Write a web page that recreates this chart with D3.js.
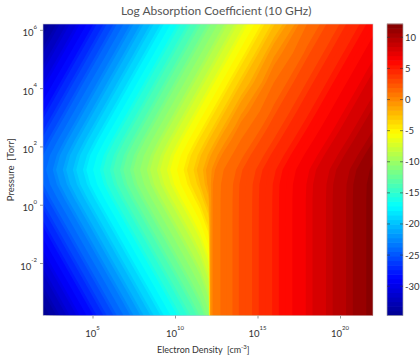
<!DOCTYPE html>
<html lang="en">
<head>
<meta charset="utf-8" />
<title>Log Absorption Coefficient (10 GHz)</title>
<script src="https://d3js.org/d3.v7.min.js"></script>
<style>
  body { margin: 0; background: #fff; }
  svg { display: block; font-family: Lato, "Open Sans", sans-serif; }
</style>
</head>
<body>
<script>
// log10 of the sample positions the field was read at
var logDensity = [2, 4, 6, 8, 10, 11, 11.5, 12, 12.05, 12.14, 12.3, 12.6, 13, 14, 16, 18, 20, 22];
var logPressure = [6.2, 5.2, 4.2, 3.2, 2.7, 2.2, 1.7, 1.2, 0.7, 0.2, -0.8, -1.8, -2.8, -3.8];

// log absorption coefficient, one row per pressure (top first), one column per density
var absorption = [
  [-34.71, -30.10, -25.50, -20.89, -16.29, -13.99, -12.84, -11.68, -11.57, -11.36, -10.99, -10.30, -9.38, -7.08, -2.47, 1.37, 3.74, 6.04],
  [-32.41, -27.80, -23.20, -18.59, -13.99, -11.68, -10.53, -9.38, -9.27, -9.06, -8.69, -8.00, -7.08, -4.78, -0.24, 2.58, 4.89, 7.19],
  [-30.10, -25.50, -20.89, -16.29, -11.68, -9.38, -8.23, -7.08, -6.96, -6.76, -6.39, -5.70, -4.78, -2.47, 1.37, 3.74, 6.04, 8.34],
  [-27.80, -23.20, -18.59, -13.99, -9.38, -7.08, -5.93, -4.78, -4.66, -4.45, -4.09, -3.39, -2.47, -0.23, 2.59, 4.89, 7.20, 9.50],
  [-26.65, -22.05, -17.44, -12.84, -8.23, -5.93, -4.78, -3.63, -3.51, -3.30, -2.93, -2.25, -1.33, 0.68, 3.18, 5.48, 7.78, 10.09],
  [-25.51, -20.90, -16.30, -11.69, -7.09, -4.79, -3.63, -2.48, -2.36, -2.16, -1.79, -1.10, -0.21, 1.42, 3.78, 6.09, 8.39, 10.69],
  [-24.44, -19.84, -15.23, -10.63, -6.02, -3.72, -2.56, -1.39, -1.27, -1.06, -0.68, 0.00, 0.75, 2.10, 4.42, 6.73, 9.03, 11.33],
  [-23.89, -19.28, -14.68, -10.07, -5.47, -3.15, -1.95, -0.66, -0.52, -0.27, 0.16, 0.81, 1.44, 2.67, 4.98, 7.29, 9.59, 11.89],
  [-24.44, -19.84, -15.23, -10.63, -6.02, -3.68, -2.44, -0.83, -0.60, -0.16, 0.45, 1.09, 1.68, 2.89, 5.20, 7.50, 9.81, 12.11],
  [-25.51, -20.90, -16.30, -11.69, -7.09, -4.74, -3.49, -1.70, -1.32, -0.30, 0.49, 1.13, 1.71, 2.92, 5.23, 7.54, 9.84, 12.14],
  [-27.80, -23.20, -18.59, -13.99, -9.38, -7.04, -5.78, -3.96, -3.49, -0.36, 0.49, 1.14, 1.72, 2.93, 5.24, 7.54, 9.84, 12.14],
  [-30.10, -25.50, -20.89, -16.29, -11.68, -9.34, -8.08, -6.26, -5.79, -0.36, 0.49, 1.14, 1.72, 2.93, 5.24, 7.54, 9.84, 12.14],
  [-32.41, -27.80, -23.20, -18.59, -13.99, -11.64, -10.39, -8.56, -8.10, -0.36, 0.49, 1.14, 1.72, 2.93, 5.24, 7.54, 9.84, 12.14],
  [-34.71, -30.10, -25.50, -20.89, -16.29, -13.94, -12.69, -10.87, -10.40, -0.36, 0.49, 1.14, 1.72, 2.93, 5.24, 7.54, 9.84, 12.14]
];

var xTicks = [1e5, 1e10, 1e15, 1e20];
var xExponents = ["5", "10", "15", "20"];
var yTicks = [1e-2, 1, 1e2, 1e4, 1e6];
var yExponents = ["-2", "0", "2", "4", "6"];
var barTicks = [-30, -25, -20, -15, -10, -5, 0, 5, 10];
var nLevels = 100;
var nColors = 64;

var W = 420, H = 357;
var plot = { left: 43, right: 373, top: 24, bottom: 315.5 };
var bar = { left: 387, right: 403 };

var svg = d3.select("body").append("svg").attr("width", W).attr("height", H);

var x = d3.scaleLog().domain([1e2, 1e22]).range([plot.left, plot.right]);
var y = d3.scaleLog().domain([Math.pow(10, -3.8), Math.pow(10, 6.2)]).range([plot.bottom, plot.top]);

// grid index -> log value (grid is not evenly spaced)
var xi = d3.scaleLinear().domain(d3.range(logDensity.length)).range(logDensity).clamp(true);
var yi = d3.scaleLinear().domain(d3.range(logPressure.length)).range(logPressure).clamp(true);

var flat = [].concat.apply([], absorption);
var vmin = d3.min(flat), vmax = d3.max(flat);
var levels = d3.range(nLevels).map(function (i) { return vmin + i * (vmax - vmin) / nLevels; });

// jet colormap, 64 entries
var jetRamp = d3.scaleLinear()
  .domain([0, 0.125, 0.375, 0.625, 0.875, 1])
  .range(["#00008f", "#0000ff", "#00ffff", "#ffff00", "#ff0000", "#800000"]);
var jet = d3.scaleQuantize()
  .domain([vmin, vmax])
  .range(d3.range(nColors).map(function (i) { return jetRamp((i + 0.5) / nColors); }));

var contours = d3.contours()
  .size([logDensity.length, logPressure.length])
  .thresholds(levels)(flat);

var path = d3.geoPath(d3.geoTransform({
  point: function (px, py) {
    this.stream.point(x(Math.pow(10, xi(px - 0.5))), y(Math.pow(10, yi(py - 0.5))));
  }
}));

svg.append("clipPath").attr("id", "clip")
  .append("rect")
  .attr("x", plot.left).attr("y", plot.top)
  .attr("width", plot.right - plot.left).attr("height", plot.bottom - plot.top);

var g = svg.append("g").attr("clip-path", "url(#clip)");
g.append("rect")
  .attr("x", plot.left).attr("y", plot.top)
  .attr("width", plot.right - plot.left).attr("height", plot.bottom - plot.top)
  .attr("fill", jet(vmin));
g.selectAll("path")
  .data(contours)
  .enter()
  .append("path")
  .attr("d", path)
  .attr("fill", function (d) { return jet(d.value); });

svg.append("rect")
  .attr("x", plot.left).attr("y", plot.top)
  .attr("width", plot.right - plot.left).attr("height", plot.bottom - plot.top)
  .attr("fill", "none").attr("stroke", "#ccc").attr("stroke-width", 0.6);

// axes: tick marks from d3.axis, labels as 10 + superscript
var xAxis = svg.append("g")
  .attr("transform", "translate(0," + plot.bottom + ")")
  .call(d3.axisBottom(x).tickValues(xTicks).tickSize(3).tickFormat(""));
var yAxis = svg.append("g")
  .attr("transform", "translate(" + plot.left + ",0)")
  .call(d3.axisLeft(y).tickValues(yTicks).tickSize(3).tickFormat(""));
[xAxis, yAxis].forEach(function (a) {
  a.select(".domain").remove();
  a.selectAll(".tick line").attr("stroke", "#999");
});

var xl = svg.selectAll(".xlab")
  .data(xTicks)
  .enter()
  .append("text")
  .attr("class", "xlab")
  .attr("x", function (d) { return x(d); })
  .attr("y", plot.bottom + 21.5)
  .attr("text-anchor", "middle")
  .attr("font-size", 9.5)
  .attr("fill", "#333");
xl.append("tspan").text("10");
xl.append("tspan").attr("dy", -7.5).attr("font-size", 6).text(function (d, i) { return xExponents[i]; });

var yl = svg.selectAll(".ylab")
  .data(yTicks)
  .enter()
  .append("text")
  .attr("class", "ylab")
  .attr("x", 37)
  .attr("y", function (d) { return y(d) + 6.5; })
  .attr("text-anchor", "end")
  .attr("font-size", 9.5)
  .attr("fill", "#333");
yl.append("tspan").text("10");
yl.append("tspan").attr("dy", -7.5).attr("font-size", 6).text(function (d, i) { return yExponents[i]; });

svg.append("text")
  .attr("x", 121).attr("y", 15)
  .attr("font-size", 12)
  .attr("fill", "#555")
  .text("Log Absorption Coefficient (10 GHz)");

var xt = svg.append("text")
  .attr("x", 157).attr("y", 353)
  .attr("font-size", 9)
  .attr("fill", "#333");
xt.append("tspan").text("Electron Density\u00a0\u00a0[cm");
xt.append("tspan").attr("dy", -4.5).attr("font-size", 6).text("-3");
xt.append("tspan").attr("dy", 4.5).text("]");

svg.append("text")
  .attr("transform", "translate(14," + ((plot.top + plot.bottom) / 2) + ") rotate(-90)")
  .attr("text-anchor", "middle")
  .attr("font-size", 9.5)
  .attr("fill", "#333")
  .text("Pressure\u00a0\u00a0[Torr]");

// colorbar
var yb = d3.scaleLinear().domain([vmin, vmax]).range([plot.bottom, plot.top]);
var cstep = (vmax - vmin) / nColors;
svg.append("g").selectAll("rect")
  .data(d3.range(nColors).map(function (i) { return vmin + i * cstep; }))
  .enter()
  .append("rect")
  .attr("x", bar.left)
  .attr("width", bar.right - bar.left)
  .attr("y", function (d) { return yb(d + cstep) - 0.3; })
  .attr("height", function (d) { return yb(d) - yb(d + cstep) + 0.6; })
  .attr("fill", function (d) { return jet(d + cstep / 2); });

svg.append("rect")
  .attr("x", bar.left).attr("y", plot.top)
  .attr("width", bar.right - bar.left).attr("height", plot.bottom - plot.top)
  .attr("fill", "none").attr("stroke", "#aaa").attr("stroke-width", 0.7);

var bt = svg.append("g").selectAll("g")
  .data(barTicks)
  .enter()
  .append("g")
  .attr("transform", function (d) { return "translate(0," + yb(d) + ")"; });
bt.append("line").attr("x1", bar.left).attr("x2", bar.left + 3).attr("stroke", "#333").attr("stroke-opacity", 0.6);
bt.append("line").attr("x1", bar.right - 3).attr("x2", bar.right).attr("stroke", "#333").attr("stroke-opacity", 0.6);
bt.append("text")
  .attr("x", bar.right + 2)
  .attr("y", 3.5)
  .attr("font-size", 9.5)
  .attr("fill", "#333")
  .text(function (d) { return d < 0 ? "-" + Math.abs(d) : d; });
</script>
</body>
</html>
